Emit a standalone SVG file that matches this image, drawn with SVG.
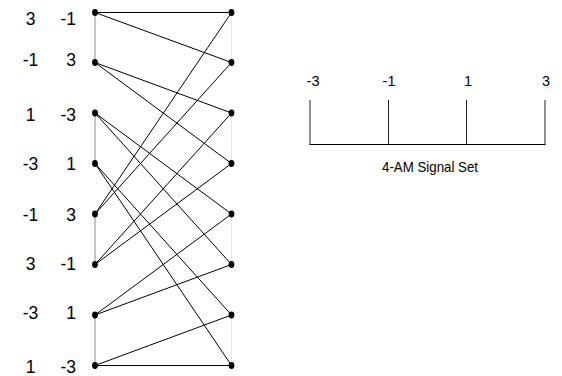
<svg xmlns="http://www.w3.org/2000/svg" width="562" height="376" viewBox="0 0 562 376">
<style>
.lbl{font-family:"Liberation Sans",Arial,sans-serif;font-size:17.5px;fill:#000}
.c1{text-anchor:middle}
.c2{text-anchor:end}
.dot{fill:#000}
.edge{stroke:#000;stroke-width:1;fill:none}
.lg{stroke:#b8b8b8;stroke-width:1.6}
.rg{stroke:#e6e6e6;stroke-width:1}
.tick{stroke:#222;stroke-width:1}
.ax{font-family:"Liberation Sans",Arial,sans-serif;font-size:14.5px;fill:#000;text-anchor:middle}
.cap{font-family:"Liberation Sans",Arial,sans-serif;font-size:15px;fill:#000}
</style>
<defs>
<ellipse id="d" rx="2.9" ry="3.4"/>
</defs>
<g id="guides">
<line class="lg" x1="95" y1="12.5" x2="95" y2="62.5"/>
<line class="lg" x1="95" y1="113" x2="95" y2="163.5"/>
<line class="lg" x1="95" y1="214" x2="95" y2="264.5"/>
<line class="lg" x1="95" y1="315" x2="95" y2="365.5"/>
<line class="rg" x1="231.5" y1="12.5" x2="231.5" y2="62.5"/>
<line class="rg" x1="231.5" y1="113" x2="231.5" y2="163.5"/>
<line class="rg" x1="231.5" y1="214" x2="231.5" y2="264.5"/>
<line class="rg" x1="231.5" y1="315" x2="231.5" y2="365.5"/>
</g>
<g id="connectors">
<line class="edge" x1="95" y1="12.5" x2="231.5" y2="12.5" stroke-width="1.4"/>
<line class="edge" x1="95" y1="12.5" x2="231.5" y2="62.5"/>
<line class="edge" x1="95" y1="62.5" x2="231.5" y2="113"/>
<line class="edge" x1="95" y1="62.5" x2="231.5" y2="163.5"/>
<line class="edge" x1="95" y1="113" x2="231.5" y2="214"/>
<line class="edge" x1="95" y1="113" x2="231.5" y2="264.5"/>
<line class="edge" x1="95" y1="163.5" x2="231.5" y2="315"/>
<line class="edge" x1="95" y1="163.5" x2="231.5" y2="365.5"/>
<line class="edge" x1="95" y1="214" x2="231.5" y2="12.5"/>
<line class="edge" x1="95" y1="214" x2="231.5" y2="62.5"/>
<line class="edge" x1="95" y1="264.5" x2="231.5" y2="113"/>
<line class="edge" x1="95" y1="264.5" x2="231.5" y2="163.5"/>
<line class="edge" x1="95" y1="315" x2="231.5" y2="214"/>
<line class="edge" x1="95" y1="315" x2="231.5" y2="264.5"/>
<line class="edge" x1="95" y1="365.5" x2="231.5" y2="315"/>
<line class="edge" x1="95" y1="365.5" x2="231.5" y2="365.5" stroke-width="1.4"/>
</g>
<g id="L0"><use href="#d" class="dot" x="95" y="12.5"/><text class="lbl c1" x="30.5" y="25">3</text><text class="lbl c2" x="76" y="25">-1</text></g>
<g id="L1"><use href="#d" class="dot" x="95" y="62.5"/><text class="lbl c1" x="30.5" y="66">-1</text><text class="lbl c2" x="76" y="66">3</text></g>
<g id="L2"><use href="#d" class="dot" x="95" y="113"/><text class="lbl c1" x="30.5" y="121">1</text><text class="lbl c2" x="76" y="121">-3</text></g>
<g id="L3"><use href="#d" class="dot" x="95" y="163.5"/><text class="lbl c1" x="30.5" y="170">-3</text><text class="lbl c2" x="76" y="170">1</text></g>
<g id="L4"><use href="#d" class="dot" x="95" y="214"/><text class="lbl c1" x="30.5" y="221">-1</text><text class="lbl c2" x="76" y="221">3</text></g>
<g id="L5"><use href="#d" class="dot" x="95" y="264.5"/><text class="lbl c1" x="30.5" y="270">3</text><text class="lbl c2" x="76" y="270">-1</text></g>
<g id="L6"><use href="#d" class="dot" x="95" y="315"/><text class="lbl c1" x="30.5" y="319">-3</text><text class="lbl c2" x="76" y="319">1</text></g>
<g id="L7"><use href="#d" class="dot" x="95" y="365.5"/><text class="lbl c1" x="30.5" y="373">1</text><text class="lbl c2" x="76" y="373">-3</text></g>
<g id="R0"><use href="#d" class="dot" x="231.5" y="12.5"/></g>
<g id="R1"><use href="#d" class="dot" x="231.5" y="62.5"/></g>
<g id="R2"><use href="#d" class="dot" x="231.5" y="113"/></g>
<g id="R3"><use href="#d" class="dot" x="231.5" y="163.5"/></g>
<g id="R4"><use href="#d" class="dot" x="231.5" y="214"/></g>
<g id="R5"><use href="#d" class="dot" x="231.5" y="264.5"/></g>
<g id="R6"><use href="#d" class="dot" x="231.5" y="315"/></g>
<g id="R7"><use href="#d" class="dot" x="231.5" y="365.5"/></g>
<g id="signal-set">
<line class="tick" x1="310" y1="100" x2="310" y2="144.5"/>
<line class="tick" x1="388.5" y1="100" x2="388.5" y2="144.5"/>
<line class="tick" x1="466.5" y1="100" x2="466.5" y2="144.5"/>
<line class="tick" x1="545" y1="100" x2="545" y2="144.5"/>
<line stroke="#000" stroke-width="1" x1="309.5" y1="144.5" x2="545.5" y2="144.5"/>
<text class="ax" x="313" y="86">-3</text>
<text class="ax" x="389" y="86">-1</text>
<text class="ax" x="468" y="86">1</text>
<text class="ax" x="546" y="86">3</text>
<text class="cap" x="382" y="171.5" textLength="96" lengthAdjust="spacingAndGlyphs">4-AM Signal Set</text>
</g>
</svg>
